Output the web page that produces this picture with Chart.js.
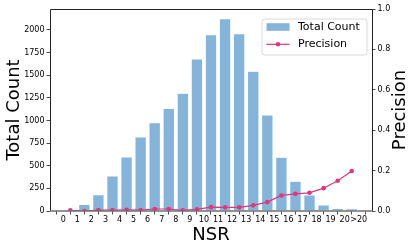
<!DOCTYPE html>
<html>
<head>
<meta charset="utf-8">
<script src="https://cdn.jsdelivr.net/npm/chart.js@4/dist/chart.umd.min.js"></script>
<style>
html,body{margin:0;padding:0;background:#fff;}
#wrap{width:415px;height:249px;}
</style>
</head>
<body>
<div id="wrap"><canvas id="c" width="415" height="249"></canvas></div>
<script>
// ---- data ----
const xLabels = ['0','1','2','3','4','5','6','7','8','9','10','11','12','13','14','15','16','17','18','19','20','>20'];
const binCenters = [0.5,1.5,2.5,3.5,4.5,5.5,6.5,7.5,8.5,9.5,10.5,11.5,12.5,13.5,14.5,15.5,16.5,17.5,18.5,19.5,20.5];
const totalCount = [2, 74, 182, 388, 599, 818, 975, 1135, 1302, 1682, 1948, 2125, 1959, 1545, 1061, 595, 329, 177, 67, 30, 27];
const precision = [0.003, 0.0, 0.005, 0.005, 0.006, 0.005, 0.010, 0.010, 0.003, 0.008, 0.019, 0.018, 0.018, 0.028, 0.044, 0.077, 0.085, 0.090, 0.113, 0.150, 0.198];
const countTicks = [0,250,500,750,1000,1250,1500,1750,2000];
const precisionTicks = [0.0,0.2,0.4,0.6,0.8,1.0];

const FONT = 'DejaVu Sans';
const BAR_COLOR = '#85b4db';
const LINE_COLOR = '#e0367f';
const TICK_COLOR = '#222';

const spinesPlugin = {
  id: 'spines',
  afterDatasetsDraw(chart) {
    const {ctx, chartArea: a} = chart;
    ctx.save();
    ctx.strokeStyle = '#222';
    ctx.lineWidth = 1;
    ctx.beginPath();
    ctx.moveTo(Math.round(a.left)+0.5, Math.round(a.bottom));
    ctx.lineTo(Math.round(a.left)+0.5, Math.round(a.top)+0.5);
    ctx.lineTo(Math.round(a.right)+0.5, Math.round(a.top)+0.5);
    ctx.lineTo(Math.round(a.right)+0.5, Math.round(a.bottom));
    ctx.stroke();
    ctx.strokeStyle = '#6f6f6f';
    ctx.lineWidth = 1.6;
    ctx.beginPath();
    ctx.moveTo(Math.round(a.left), Math.round(a.bottom));
    ctx.lineTo(Math.round(a.right)+1, Math.round(a.bottom));
    ctx.stroke();
    ctx.restore();
  },
  afterDraw(chart) {
    const ctx = chart.ctx;
    const a = chart.chartArea;
    ctx.save();
    // right axis title
    ctx.fillStyle = '#000';
    ctx.font = '18px "' + FONT + '"';
    ctx.textAlign = 'center';
    ctx.textBaseline = 'middle';
    ctx.translate(400, (a.top + a.bottom) / 2);
    ctx.rotate(-Math.PI / 2);
    ctx.fillText('Precision', 0, 0);
    ctx.restore();

    // legend
    ctx.save();
    const lx = 262, ly = 19, lw = 105, lh = 36, r = 3;
    ctx.beginPath();
    ctx.moveTo(lx + r, ly);
    ctx.lineTo(lx + lw - r, ly);
    ctx.arcTo(lx + lw, ly, lx + lw, ly + r, r);
    ctx.lineTo(lx + lw, ly + lh - r);
    ctx.arcTo(lx + lw, ly + lh, lx + lw - r, ly + lh, r);
    ctx.lineTo(lx + r, ly + lh);
    ctx.arcTo(lx, ly + lh, lx, ly + lh - r, r);
    ctx.lineTo(lx, ly + r);
    ctx.arcTo(lx, ly, lx + r, ly, r);
    ctx.closePath();
    ctx.fillStyle = 'rgba(255,255,255,0.8)';
    ctx.fill();
    ctx.strokeStyle = '#d0d0d0';
    ctx.lineWidth = 0.8;
    ctx.stroke();

    const ds = chart.data.datasets;
    ctx.fillStyle = BAR_COLOR;
    ctx.fillRect(266.5, 23.2, 23, 7.6);
    ctx.strokeStyle = LINE_COLOR;
    ctx.lineWidth = 1.2;
    ctx.beginPath();
    ctx.moveTo(266.5, 44.3);
    ctx.lineTo(289.5, 44.3);
    ctx.stroke();
    ctx.fillStyle = LINE_COLOR;
    ctx.beginPath();
    ctx.arc(278, 44.3, 2.3, 0, Math.PI * 2);
    ctx.fill();

    ctx.fillStyle = '#000';
    ctx.font = '11px "' + FONT + '"';
    ctx.textAlign = 'left';
    ctx.textBaseline = 'middle';
    ctx.fillText(ds[1].label, 298, 27.5);
    ctx.fillText(ds[0].label, 298, 44.5);
    ctx.restore();
  }
};

function matchTick(list, v) {
  return list.find(t => Math.abs(t - v) < 1e-6);
}

new Chart(document.getElementById('c'), {
  data: {
    datasets: [
      {
        type: 'line',
        label: 'Precision',
        data: binCenters.map((x, i) => ({x: x, y: precision[i]})),
        yAxisID: 'y1',
        xAxisID: 'x',
        borderColor: LINE_COLOR,
        backgroundColor: LINE_COLOR,
        borderWidth: 1.2,
        pointRadius: 2.3,
        pointBorderWidth: 0,
        pointBackgroundColor: LINE_COLOR,
        tension: 0,
        order: 0
      },
      {
        type: 'bar',
        label: 'Total Count',
        data: binCenters.map((x, i) => ({x: x, y: totalCount[i]})),
        yAxisID: 'y',
        xAxisID: 'x',
        backgroundColor: BAR_COLOR,
        borderColor: '#ffffff',
        borderWidth: 0.6,
        barPercentage: 0.82,
        categoryPercentage: 1.0,
        order: 1
      }
    ]
  },
  options: {
    responsive: false,
    animation: false,
    devicePixelRatio: 1,
    layout: {padding: {top: 9, left: 0, right: 0, bottom: 0}},
    plugins: {legend: {display: false}, tooltip: {enabled: false}},
    scales: {
      x: {
        type: 'linear',
        position: 'bottom',
        min: -0.94,
        max: 21.94,
        offset: false,
        border: {display: false},
        grid: {drawOnChartArea: false, drawTicks: true, tickLength: 3.5, color: TICK_COLOR, lineWidth: 0.8},
        ticks: {
          stepSize: 1,
          autoSkip: false,
          maxRotation: 0,
          minRotation: 0,
          includeBounds: false,
          padding: 1,
          color: '#000',
          font: {family: FONT, size: 8},
          callback: (v) => (Number.isInteger(v) && v >= 0 && v < xLabels.length) ? xLabels[v] : null
        },
        title: {display: true, text: 'NSR', color: '#000', font: {family: FONT, size: 18}, padding: {top: 0, bottom: 3}},
        afterFit: (s) => { s.height = 38; }
      },
      y: {
        type: 'linear',
        position: 'left',
        min: 0,
        max: 2232,
        border: {display: false},
        grid: {drawOnChartArea: false, drawTicks: true, tickLength: 3.5, color: TICK_COLOR, lineWidth: 0.8},
        afterBuildTicks: (s) => { s.ticks = countTicks.map(v => ({value: v})); },
        ticks: {
          autoSkip: false,
          padding: 2,
          color: '#000',
          font: {family: FONT, size: 8},
          callback: (v) => {
            const m = matchTick(countTicks, v);
            return m === undefined ? null : String(m);
          }
        },
        title: {display: true, text: 'Total Count', color: '#000', font: {family: FONT, size: 18}, padding: {top: 4, bottom: 0}},
        afterFit: (s) => { s.width = 50; }
      },
      y1: {
        type: 'linear',
        position: 'right',
        min: 0,
        max: 1,
        border: {display: false},
        grid: {drawOnChartArea: false, drawTicks: true, tickLength: 3.5, color: TICK_COLOR, lineWidth: 0.8},
        afterBuildTicks: (s) => { s.ticks = precisionTicks.map(v => ({value: v})); },
        ticks: {
          autoSkip: false,
          padding: 2,
          color: '#000',
          font: {family: FONT, size: 8},
          callback: (v) => {
            const m = matchTick(precisionTicks, v);
            return m === undefined ? null : m.toFixed(1);
          }
        },
        title: {display: false},
        afterFit: (s) => { s.width = 43; }
      }
    }
  },
  plugins: [spinesPlugin]
});
</script>
</body>
</html>
